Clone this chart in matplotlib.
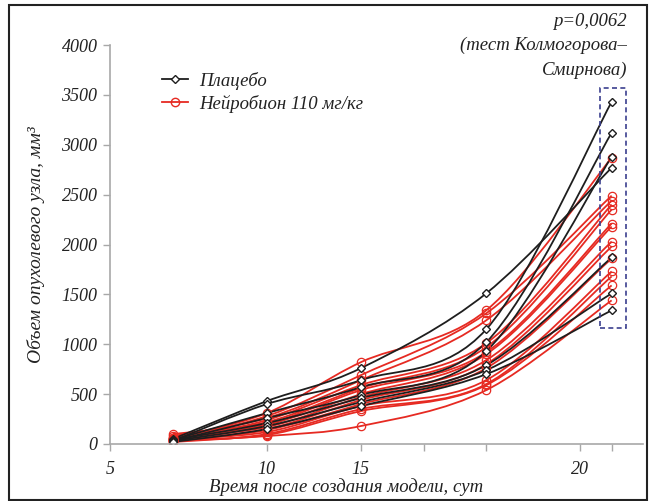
import numpy as np
import matplotlib
matplotlib.use("Agg")
import matplotlib.pyplot as plt
from matplotlib.path import Path
from matplotlib.patches import PathPatch, Rectangle
from matplotlib.lines import Line2D

plt.rcParams['font.family'] = ['Liberation Serif', 'DejaVu Serif']
plt.rcParams['font.style'] = 'italic'

# дни измерения
dias = [7, 10, 13, 17, 21]

# плацебо (чёрные)
placebo = [
    [50, 430, 760, 1510, 2770],
    [30, 400, 640, 1150, 3430],
    [40, 310, 570, 1020, 3120],
    [30, 260, 490, 930, 2880],
    [40, 210, 460, 790, 1870],
    [30, 180, 420, 740, 1510],
    [20, 150, 380, 700, 1340],
]

# нейробион 110 мг/кг (красные)
neurobion = [
    [60, 310, 820, 1340, 2870],
    [50, 280, 690, 1310, 2490],
    [80, 260, 640, 1240, 2440],
    [40, 240, 590, 1010, 2400],
    [100, 220, 560, 970, 2350],
    [50, 200, 540, 920, 2210],
    [30, 190, 500, 900, 2180],
    [60, 170, 470, 840, 2030],
    [40, 150, 440, 800, 1980],
    [30, 140, 400, 760, 1860],
    [50, 120, 380, 640, 1730],
    [20, 100, 350, 600, 1680],
    [40, 90, 330, 590, 1590],
    [30, 80, 180, 540, 1440],
]

xticks = [5, 10, 13, 15, 17, 20, 21]
xticklabels = ['5', '10', '15', '', '', '20', '']
yticks = [0, 500, 1000, 1500, 2000, 2500, 3000, 3500, 4000]

negro = '#1e1e1e'
rojo = '#e62a22'


def curva_suave(ax, xs, ys, color):
    # кривая Катмулла-Рома через точки, как кубические Безье
    pts = np.column_stack([xs, ys]).astype(float)
    ext = np.vstack([pts[0], pts, pts[-1]])
    verts = [tuple(pts[0])]
    codes = [Path.MOVETO]
    for i in range(len(pts) - 1):
        p0, p1, p2, p3 = ext[i], ext[i + 1], ext[i + 2], ext[i + 3]
        c1 = p1 + (p2 - p0) / 6.0
        c2 = p2 - (p3 - p1) / 6.0
        verts += [tuple(c1), tuple(c2), tuple(p2)]
        codes += [Path.CURVE4] * 3
    ax.add_patch(PathPatch(Path(verts, codes), facecolor='none',
                           edgecolor=color, lw=1.3))


fig = plt.figure(figsize=(6.49, 5.01), dpi=100)
ax = fig.add_axes([110 / 649, 57 / 501, 533 / 649, 399 / 501])

for serie in neurobion:
    curva_suave(ax, dias, serie, rojo)
    ax.plot(dias, serie, ls='none', marker='o', ms=6, mfc='none',
            mec=rojo, mew=0.9)
for serie in placebo:
    curva_suave(ax, dias, serie, negro)
    ax.plot(dias, serie, ls='none', marker='D', ms=4, mfc='white',
            mec=negro, mew=1.0)

ax.set_xlim(5, 22)
ax.set_ylim(0, 4000)
ax.set_xticks(xticks)
ax.set_xticklabels(xticklabels)
ax.set_yticks(yticks)
ax.set_yticklabels([str(v) for v in yticks])

for lado in ['top', 'right']:
    ax.spines[lado].set_visible(False)
for lado in ['left', 'bottom']:
    ax.spines[lado].set_color('#a8a8a8')
    ax.spines[lado].set_linewidth(1.2)
ax.tick_params(axis='both', colors='#a8a8a8', labelcolor='#222222',
               labelsize=13, length=5, width=1)
ax.tick_params(axis='x', pad=7)
ax.tick_params(axis='y', pad=4)

ax.set_xlabel('Время после создания модели, сут', fontsize=13.5,
              color='#222222')
ax.xaxis.set_label_coords(0.443, -0.085)
ax.set_ylabel('Объем опухолевого узла, мм³', fontsize=14,
              color='#222222', labelpad=12)

# рамка вокруг последнего дня
ax.add_patch(Rectangle((20.63, 1160), 0.83, 2410, fill=False,
                       edgecolor='#3b3f8f', ls=(0, (3, 2)), lw=1.2,
                       clip_on=False))

fig.text(627 / 649, 1 - 21 / 501, 'p=0,0062', ha='right', va='center',
         fontsize=13.5, color='#222222')
fig.text(627 / 649, 1 - 45 / 501, '(тест Колмогорова–', ha='right',
         va='center', fontsize=13.5, color='#222222')
fig.text(627 / 649, 1 - 70 / 501, 'Смирнова)', ha='right', va='center',
         fontsize=13.5, color='#222222')

manejadores = [
    Line2D([], [], color=negro, lw=1.3, marker='D', ms=4, mfc='white',
           mec=negro),
    Line2D([], [], color=rojo, lw=1.3, marker='o', ms=6, mfc='none',
           mec=rojo),
]
ax.legend(manejadores, ['Плацебо', 'Нейробион 110 мг/кг'],
          loc='upper left', bbox_to_anchor=(0.065, 0.975), frameon=False,
          fontsize=13.5, handlelength=1.4, handletextpad=0.6,
          labelspacing=0.25, labelcolor='#222222')

# рамка рисунка
fig.add_artist(Rectangle((9 / 649, 0.002), 638 / 649, 1 - 5 / 501 - 0.002,
                         transform=fig.transFigure, fill=False,
                         edgecolor='#222222', lw=1.5))

fig.savefig('out.png', dpi=100)
